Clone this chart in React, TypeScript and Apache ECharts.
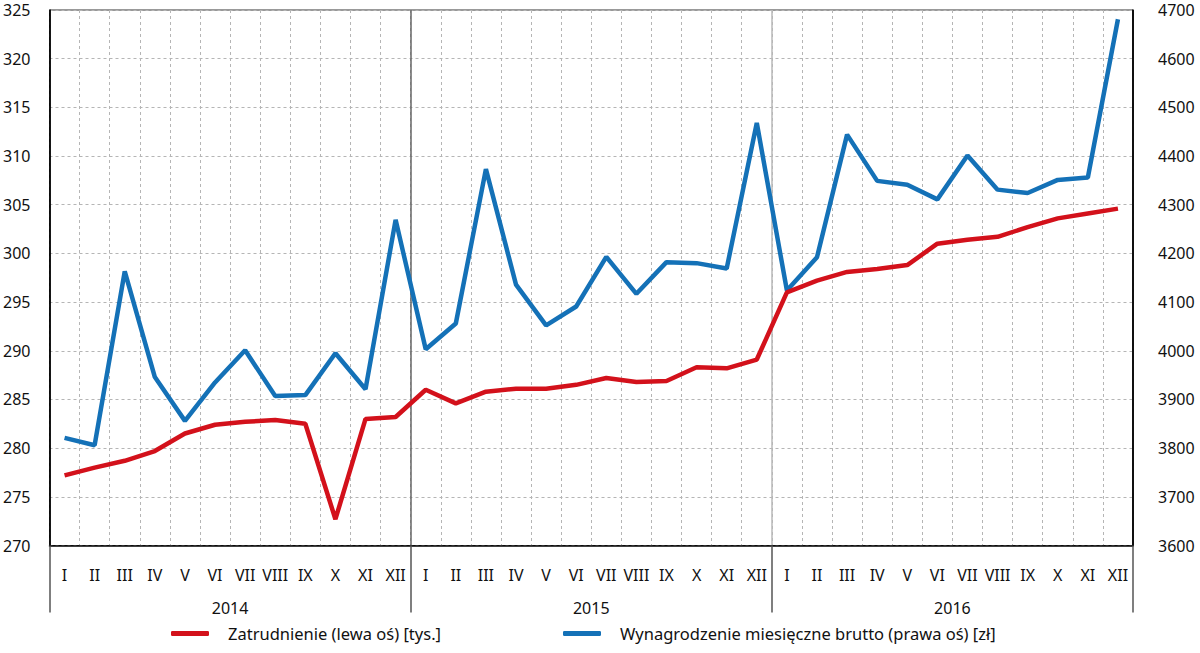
import React, { useEffect, useRef } from "react";
import * as echarts from "echarts";

const months = ["I","II","III","IV","V","VI","VII","VIII","IX","X","XI","XII"];
const years = ["2014", "2015", "2016"];
const categories: string[] = years.flatMap((y) => months.map((m) => `${m}|${y}`));

const employment = [
  277.2, 278.0, 278.7, 279.7, 281.5, 282.4, 282.7, 282.9, 282.5, 272.7, 283.0, 283.2,
  286.0, 284.6, 285.8, 286.1, 286.1, 286.5, 287.2, 286.8, 286.9, 288.3, 288.2, 289.1,
  296.0, 297.2, 298.1, 298.4, 298.8, 301.0, 301.4, 301.7, 302.7, 303.6, 304.1, 304.6,
];

const wages = [
  3821, 3806, 4163, 3946, 3856, 3935, 4001, 3907, 3909, 3995, 3921, 4269,
  4003, 4056, 4373, 4136, 4052, 4091, 4193, 4117, 4182, 4180, 4169, 4468,
  4124, 4192, 4444, 4349, 4341, 4311, 4401, 4331, 4324, 4351, 4356, 4681,
];

const leftTicks = { min: 270, max: 325, interval: 5 };
const rightTicks = { min: 3600, max: 4700, interval: 100 };

const NAME_EMP = "Zatrudnienie (lewa oś) [tys.]";
const NAME_WAGE = "Wynagrodzenie miesięczne brutto (prawa oś) [zł]";

const FONT = "'Noto Sans', 'Open Sans', sans-serif";
const RED = "#d3111b";
const BLUE = "#1471b7";

export default function App() {
  const ref = useRef<HTMLDivElement>(null);
  useEffect(() => {
    if (!ref.current) return;
    const chart = echarts.init(ref.current, undefined, { renderer: "svg" });
    chart.setOption({
      animation: false,
      backgroundColor: "#ffffff",
      textStyle: { fontFamily: FONT },
      grid: {
        left: 49.5,
        right: 67,
        top: 10,
        bottom: 107.5,
        show: true,
        borderColor: "#333",
        borderWidth: 1,
      },
      legend: {
        bottom: 6,
        left: 166,
        itemWidth: 38,
        itemHeight: 5,
        itemGap: 122,
        textStyle: { fontFamily: FONT, fontSize: 16.5, color: "#111", padding: [0, 0, 0, 14] },
        data: [
          { name: NAME_EMP, icon: "roundRect" },
          { name: NAME_WAGE, icon: "roundRect" },
        ],
      },
      xAxis: [
        {
          type: "category",
          data: categories,
          boundaryGap: true,
          position: "bottom",
          axisLine: { show: true, lineStyle: { color: "#000", width: 1.5 } },
          axisTick: { show: false },
          axisLabel: {
            interval: 0,
            margin: 21,
            fontSize: 16,
            color: "#111",
            fontFamily: FONT,
            formatter: (v: string) => v.split("|")[0],
          },
          splitLine: {
            show: true,
            interval: 0,
            lineStyle: { color: "#b5b5b5", type: [3, 3], width: 1 },
          },
        },
        {
          type: "category",
          data: years,
          boundaryGap: true,
          position: "bottom",
          axisLine: { show: false },
          axisTick: {
            show: true,
            interval: 0,
            length: 67,
            lineStyle: { color: "#555", width: 1.5 },
          },
          axisLabel: {
            interval: 0,
            margin: 54,
            fontSize: 16,
            color: "#111",
            fontFamily: FONT,
          },
          splitLine: {
            show: true,
            interval: 0,
            lineStyle: { color: ["#222", "#666", "#b8b8b8", "#222"], width: 1.5 },
          },
        },
      ],
      yAxis: [
        {
          type: "value",
          position: "left",
          min: leftTicks.min,
          max: leftTicks.max,
          interval: leftTicks.interval,
          axisLine: { show: true, lineStyle: { color: "#000", width: 1.5 } },
          axisTick: { show: false },
          axisLabel: { fontSize: 16, color: "#111", margin: 19, fontFamily: FONT },
          splitLine: { show: true, lineStyle: { color: "#b5b5b5", type: [3, 3], width: 1 } },
        },
        {
          type: "value",
          position: "right",
          min: rightTicks.min,
          max: rightTicks.max,
          interval: rightTicks.interval,
          axisLine: { show: true, lineStyle: { color: "#000", width: 1.5 } },
          axisTick: { show: false },
          axisLabel: {
            fontSize: 16,
            color: "#111",
            margin: 25,
            fontFamily: FONT,
            formatter: (v: number) => String(v),
          },
          splitLine: { show: false },
        },
      ],
      series: [
        {
          name: NAME_WAGE,
          type: "line",
          xAxisIndex: 0,
          yAxisIndex: 1,
          data: wages,
          symbol: "none",
          lineStyle: { color: BLUE, width: 4.5 },
          itemStyle: { color: BLUE },
        },
        {
          name: NAME_EMP,
          type: "line",
          xAxisIndex: 0,
          yAxisIndex: 0,
          data: employment,
          symbol: "none",
          lineStyle: { color: RED, width: 4.5 },
          itemStyle: { color: RED },
        },
      ],
    });
    return () => chart.dispose();
  }, []);
  return (
    <div
      ref={ref}
      style={{ position: "fixed", left: 0, top: 0, width: 1200, height: 653 }}
    />
  );
}
